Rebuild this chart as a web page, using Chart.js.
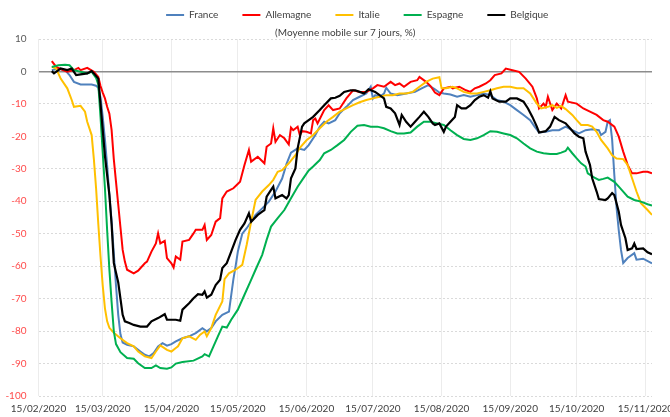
<!DOCTYPE html>
<html lang="fr">
<head>
<meta charset="utf-8">
<title>Mobilité - moyenne mobile 7 jours</title>
<script src="https://cdn.jsdelivr.net/npm/chart.js@4"></script>
<style>
  html, body { margin: 0; padding: 0; background: #fff; overflow: hidden; }
  canvas { display: block; }
</style>
</head>
<body>
<canvas id="graphique" width="670" height="417"></canvas>
<script>
// jours depuis le 15/02/2020, valeurs en %
const france = [[6,0.4],[9,0.9],[12,0.4],[14,-1.1],[16,-3.2],[19,-4],[22,-4],[24,-4],[26,-4.4],[27,-5],[28,-8],[29,-14],[30,-21],[31,-29],[32,-38],[33,-46],[34,-56],[35,-66],[36,-75],[37,-81],[38,-83.5],[40,-84.2],[43,-84.7],[46,-86.3],[48,-87.3],[50,-87.8],[52,-86.8],[54,-84.7],[56,-83.7],[58,-84.5],[60,-84],[62,-83.2],[65,-82.2],[68,-81.6],[71,-80.6],[74,-79.1],[76,-80.1],[78,-79.1],[80,-77],[83,-75],[86,-74],[87,-69],[88,-64],[89,-60],[90,-55.5],[92,-50],[94,-48.3],[96,-46.3],[98,-44.2],[101,-42.2],[104,-40.1],[107,-37],[110,-33],[112,-28.5],[114,-25],[117,-23.7],[120,-24.2],[122,-22.7],[125,-19.6],[127,-17],[129,-15.5],[131,-16],[134,-15],[136,-12.9],[139,-10.9],[142,-8.8],[145,-7.8],[148,-6.8],[150,-4.7],[151,-8.3],[152,-7.3],[154,-7.8],[156,-6.8],[157,-5],[159,-6.8],[162,-7.3],[166,-6.8],[170,-6.3],[173,-5.2],[176,-4.2],[179,-5.5],[181,-6.5],[183,-6.8],[186,-7.1],[189,-7.8],[192,-7.3],[195,-7.8],[198,-7.3],[201,-6.8],[204,-7.3],[207,-8.8],[210,-9.3],[213,-10.4],[216,-11.9],[219,-13.4],[222,-15],[224,-17],[226,-18.8],[229,-18.6],[232,-18.1],[235,-18.1],[238,-17],[241,-18.1],[244,-19.1],[247,-18.1],[250,-17.8],[253,-18.1],[254,-19.6],[256,-18.6],[257,-15.5],[258,-15],[259,-21],[260,-32],[261,-42],[262,-49],[263,-55],[264,-59],[266,-57.5],[269,-56],[270,-58],[273,-57.7],[277,-59.1]];

const allemagne = [[6,3.2],[8,1.4],[11,0.4],[13,-0.1],[16,0.4],[18,1.1],[19,0.4],[22,1.1],[25,-0.1],[27,-1.7],[28,-4.5],[29,-6.5],[30,-8.3],[31,-10.9],[32,-13],[33,-18],[34,-27],[35,-34],[36,-41],[37,-48],[38,-55],[39,-58.6],[40,-61.1],[43,-62.2],[45,-61.4],[48,-59.1],[49,-58.6],[51,-55.5],[53,-53],[54,-49.9],[55,-53],[57,-52.2],[58,-57.5],[60,-59.1],[61,-60.4],[62,-57],[64,-58],[65,-52.4],[68,-51.9],[70,-49.9],[71,-48.8],[74,-48.8],[75,-47.3],[76,-51.9],[78,-50.4],[80,-46.3],[82,-45.2],[83,-39.1],[85,-37],[88,-36],[91,-34],[93,-28.8],[95,-24.2],[96,-27.8],[99,-26.3],[102,-28.3],[103,-23.2],[105,-22.2],[106,-17.5],[107,-21.7],[109,-19.6],[111,-20.6],[113,-22.5],[114,-17.3],[115,-18.1],[117,-17],[118,-19.6],[119,-18.4],[121,-18.6],[123,-19.1],[124,-15],[125,-14.5],[126,-16],[129,-11.9],[131,-10.4],[133,-11.9],[136,-11.4],[139,-8.3],[142,-5.8],[145,-6.3],[148,-6.3],[151,-5.2],[153,-4.2],[156,-4.7],[159,-3.2],[161,-4.2],[163,-3.7],[165,-4.7],[168,-3.2],[171,-2.7],[172,-1.7],[175,-3.2],[177,-4.5],[179,-6.5],[181,-7.3],[183,-5.2],[186,-4.7],[187,-5.2],[190,-4.7],[193,-5.8],[195,-6.3],[197,-5.2],[199,-4.7],[202,-3.7],[204,-2.7],[206,-1.1],[209,-0.6],[211,0.9],[214,0.4],[217,-0.1],[220,-2.2],[223,-4.7],[225,-8.3],[226,-11.4],[228,-9.9],[229,-10.9],[230,-7.8],[232,-11.9],[234,-9.9],[236,-11.4],[238,-7.3],[239,-9.3],[243,-9.9],[246,-11.4],[249,-12.4],[252,-13.4],[255,-15],[257,-15.5],[260,-17],[262,-20.1],[264,-24.7],[266,-28.8],[268,-31.4],[270,-31.4],[273,-30.9],[275,-30.9],[277,-31.4]];

const italie = [[6,1.4],[8,0.9],[10,-2.2],[13,-5.2],[15,-8.8],[16,-10.9],[19,-10.6],[21,-12.4],[22,-15.5],[24,-19.6],[25,-27],[26,-36],[27,-47],[28,-57],[29,-66],[30,-73],[31,-77],[32,-79],[34,-80.5],[37,-82.2],[40,-83.7],[43,-84.7],[45,-86.3],[48,-87.8],[51,-88.3],[53,-86.3],[55,-84.4],[58,-85.8],[60,-86.3],[62,-85.2],[63,-84.7],[65,-82.2],[68,-81.6],[71,-82.7],[73,-81.1],[75,-80.1],[76,-81.6],[78,-79.1],[80,-75],[83,-70.9],[84,-64],[86,-62.2],[89,-61.1],[92,-59.6],[94,-53.4],[96,-46.3],[98,-39.6],[101,-37],[104,-35],[106,-33.4],[108,-30.9],[110,-30.4],[113,-28.3],[116,-25.8],[118,-23.5],[121,-21.2],[124,-19.6],[127,-17.5],[130,-15.5],[133,-14],[136,-12.4],[139,-11.4],[142,-10.4],[145,-9.5],[148,-8.8],[151,-8.3],[154,-7.8],[157,-7.3],[160,-7.3],[163,-6.8],[166,-6.8],[169,-6.3],[172,-4.7],[175,-3.2],[178,-2.2],[181,-1.8],[182,-5.2],[184,-5.2],[187,-4.7],[189,-5.2],[192,-6.3],[195,-6.8],[198,-6.8],[201,-6.3],[204,-5.8],[207,-5.2],[210,-4.7],[213,-4.7],[216,-5.2],[219,-5.2],[222,-6.8],[225,-9.9],[227,-11.4],[230,-10.9],[232,-10.4],[234,-11.2],[236,-10.6],[238,-11.6],[241,-13.4],[243,-15],[245,-16.5],[248,-16.5],[250,-17],[252,-18.6],[254,-21.1],[257,-23.7],[259,-25.8],[261,-26.8],[264,-27],[266,-28.8],[268,-32.9],[270,-37],[272,-40.6],[275,-42.7],[277,-44.2]];

const espagne = [[6,1.4],[9,1.9],[12,2.1],[14,1.9],[16,0.4],[19,-0.1],[22,-0.6],[24,-0.1],[25,-1.1],[26,-2],[27,-4],[28,-14],[29,-25],[30,-36],[31,-49],[32,-61],[33,-71],[34,-80],[35,-84],[37,-86.5],[40,-88.3],[43,-88.5],[45,-89.9],[48,-91.4],[51,-91.4],[53,-90.6],[55,-91.4],[58,-91.6],[60,-91.2],[62,-90],[65,-89.5],[70,-89.1],[74,-87.8],[75,-87.1],[77,-87.8],[79,-84.7],[81,-81.6],[83,-78.6],[85,-78.9],[87,-76.5],[90,-73.4],[93,-68.8],[96,-64.2],[98,-61.1],[101,-56.5],[103,-51.9],[105,-47.8],[108,-45.2],[111,-42.7],[114,-39.1],[117,-35.5],[120,-32.5],[122,-30.5],[124,-29.3],[127,-27.3],[129,-25.2],[132,-24.2],[135,-22.7],[138,-21.1],[141,-18.6],[144,-16.7],[147,-16.5],[150,-17],[153,-17],[156,-17.5],[159,-18.4],[162,-19.1],[165,-19.1],[168,-18.8],[171,-17],[174,-15.5],[177,-15.5],[180,-16],[183,-16.5],[186,-18.1],[189,-19.6],[192,-20.8],[195,-21.1],[198,-20.6],[201,-19.6],[204,-18.4],[207,-18.6],[210,-19.1],[213,-19.6],[216,-20.6],[219,-22.2],[222,-23.7],[225,-24.7],[228,-25.2],[231,-25.4],[234,-25.4],[236,-25],[238,-24.5],[239,-23.5],[241,-25.2],[243,-26.8],[245,-28.3],[247,-29.3],[248,-31.4],[251,-32.7],[253,-33.4],[255,-33.1],[257,-32.7],[260,-34],[262,-35.5],[264,-37],[266,-38.6],[269,-39.6],[272,-40.1],[275,-40.9],[277,-41.3]];

const belgique = [[6,0.1],[7,-0.6],[9,0.4],[10,0.9],[13,0.4],[15,0.9],[17,-1.1],[19,-0.9],[22,-0.6],[24,0.1],[25,-0.6],[27,-2.2],[28,-10],[29,-18],[30,-26],[31,-32],[32,-38],[33,-47],[34,-59],[35,-62],[36,-65],[37,-70],[38,-75],[39,-77],[41,-77.5],[43,-78.1],[46,-78.6],[49,-78.6],[51,-77],[54,-76],[57,-74.8],[58,-76.5],[62,-76.5],[64,-76.8],[65,-73.4],[68,-71.4],[70,-69.9],[72,-68.6],[74,-68.8],[75,-67.8],[76,-69.7],[78,-68.8],[80,-65.8],[82,-64.2],[83,-60.6],[85,-59.1],[87,-55.5],[89,-51.9],[91,-48.8],[93,-46.8],[95,-43.7],[96,-46.3],[99,-44.2],[101,-43.2],[102,-42.7],[103,-38.6],[105,-36.5],[106,-35.5],[107,-39.1],[110,-38.1],[112,-39.1],[113,-38.1],[114,-32.9],[116,-29.9],[117,-23.7],[119,-17],[120,-16],[122,-15],[124,-14],[127,-11.9],[129,-10.4],[132,-8.3],[134,-8.1],[136,-7.5],[138,-6.3],[141,-5.8],[143,-5.8],[145,-6.3],[147,-6.8],[149,-5.5],[152,-6.3],[154,-7.3],[156,-8.3],[157,-10.9],[159,-11.4],[161,-12.9],[163,-16.5],[164,-13.4],[166,-15.5],[168,-17],[170,-15.5],[172,-14],[174,-12.4],[176,-14],[178,-16],[179,-16.5],[181,-16],[183,-18.6],[184,-17],[186,-15.5],[188,-14],[189,-10.4],[191,-11.4],[193,-11.4],[195,-10.4],[197,-8.8],[199,-7.8],[201,-7.3],[203,-8.1],[204,-6.1],[205,-8.3],[208,-9.3],[211,-9.3],[213,-8.3],[216,-8.3],[219,-9.3],[221,-11.4],[223,-14],[225,-17],[226,-18.8],[229,-18.4],[231,-17],[233,-14],[235,-15],[238,-16],[240,-17.5],[242,-19.1],[244,-20.1],[246,-20.6],[247,-24.7],[249,-28.8],[250,-32.9],[252,-37],[253,-39.3],[256,-39.6],[257,-39.1],[259,-37.5],[260,-38.1],[262,-43.2],[263,-47.3],[265,-51.4],[266,-55],[268,-54.5],[269,-53],[270,-54.7],[273,-54.5],[275,-55.7],[277,-56.3]];

const pays = ['France', 'Allemagne', 'Italie', 'Espagne', 'Belgique'];
const couleurs = ['#4f81bd', '#ff0000', '#ffc000', '#00b050', '#000000'];

// graduations de l'axe des dates
const joursTicks = [0, 29, 60, 90, 121, 151, 182, 213, 243, 274];
const etiquettesX = ['15/02/2020', '15/03/2020', '15/04/2020', '15/05/2020', '15/06/2020',
  '15/07/2020', '15/08/2020', '15/09/2020', '15/10/2020', '15/11/2020'];

Chart.defaults.font.family = 'Lato, "Open Sans", sans-serif';
Chart.defaults.font.size = 10;
Chart.defaults.color = '#404040';

const series = [france, allemagne, italie, espagne, belgique];
const datasets = series.map((s, i) => ({
  label: pays[i],
  data: s,
  borderColor: couleurs[i],
  backgroundColor: couleurs[i],
  borderWidth: i === 4 ? 2.2 : 2,
  pointRadius: 0,
  tension: 0,
  order: 4 - i // Belgique dessinée par-dessus
}));

// hauteur fixe pour la légende + léger décalage vers la droite
const legendeHauteur = {
  id: 'legendeHauteur',
  beforeInit(chart) {
    const fitOrig = chart.legend.fit;
    chart.legend.fit = function () {
      fitOrig.bind(chart.legend)();
      this.height = 41;
    };
  },
  afterLayout(chart) {
    chart.legend.left += 12;
    chart.legend.right += 12;
  }
};

new Chart(document.getElementById('graphique'), {
  type: 'line',
  data: { datasets: datasets },
  plugins: [legendeHauteur],
  options: {
    responsive: false,
    animation: false,
    layout: { padding: { top: -14, right: 18, left: 0, bottom: 0 } },
    plugins: {
      legend: {
        fullSize: false,
        weight: 1000,
        labels: {
          boxWidth: 18,
          boxHeight: 2,
          padding: 24,
          color: '#404040',
          sort: (a, b) => a.datasetIndex - b.datasetIndex,
          generateLabels: chart => Chart.defaults.plugins.legend.labels.generateLabels(chart)
            .map(l => Object.assign(l, { lineWidth: 0 }))
        }
      },
      subtitle: {
        display: true,
        fullSize: false,
        weight: 900, // sous la légende
        text: '(Moyenne mobile sur 7 jours, %)',
        color: '#404040',
        font: { size: 10 },
        padding: 0
      },
      tooltip: { enabled: false }
    },
    scales: {
      x: {
        type: 'linear',
        min: 0,
        max: 277,
        afterBuildTicks: axe => { axe.ticks = joursTicks.map(v => ({ value: v })); },
        afterFit: axe => { axe.paddingLeft = 0; axe.paddingRight = 0; axe.height = 21; },
        ticks: {
          autoSkip: false,
          maxRotation: 0,
          padding: 7,
          color: '#404040',
          callback: v => etiquettesX[joursTicks.indexOf(v)]
        },
        grid: { color: '#ececec', drawTicks: false },
        border: { display: false }
      },
      y: {
        min: -100,
        max: 10,
        afterFit: axe => { axe.width = 38.5; },
        ticks: {
          stepSize: 10,
          padding: 12,
          color: c => c.tick.value < 0 ? '#ff4b4b' : '#595959'
        },
        grid: {
          drawTicks: false,
          color: c => c.tick && c.tick.value === 0 ? '#8c8c8c' : '#dadada',
          lineWidth: c => c.tick && c.tick.value === 0 ? 1.5 : 1
        },
        border: {
          display: false,
          dash: c => c.tick && c.tick.value === 0 ? [] : [2, 2]
        }
      }
    }
  }
});
</script>
</body>
</html>
